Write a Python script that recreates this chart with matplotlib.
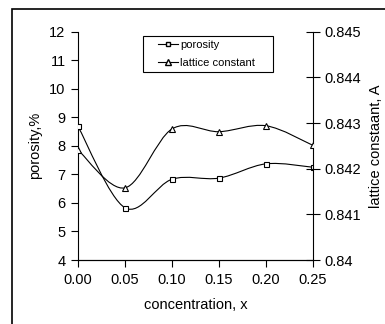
import numpy as np
import matplotlib.pyplot as plt
from matplotlib.path import Path
from matplotlib.patches import PathPatch, Rectangle

plt.rcParams['font.family'] = ['Liberation Sans', 'DejaVu Sans']

concentration = [0.00, 0.05, 0.10, 0.15, 0.20, 0.25]
porosity = [8.68, 5.83, 6.83, 6.87, 7.37, 7.25]
lattice = [0.84241, 0.84158, 0.84287, 0.84281, 0.84294, 0.84251]
xtick_labels = ['0.00', '0.05', '0.10', '0.15', '0.20', '0.25']


def smoothPatch(x, y, transform):
    '''
    Excel-like smoothed line: cubic bezier through the points,
    control points from neighbouring points (Catmull-Rom).
    '''
    pts = np.column_stack([x, y]).astype(float)
    verts = [pts[0]]
    codes = [Path.MOVETO]
    n = len(pts)
    for i in range(n - 1):
        p0 = pts[max(i - 1, 0)]
        p1 = pts[i]
        p2 = pts[i + 1]
        p3 = pts[min(i + 2, n - 1)]
        c1 = p1 + (p2 - p0) / 6.0
        c2 = p2 - (p3 - p1) / 6.0
        verts += [c1, c2, p2]
        codes += [Path.CURVE4] * 3
    return PathPatch(Path(verts, codes), facecolor='none', edgecolor='black',
                     lw=0.8, transform=transform)


fig = plt.figure(figsize=(3.85, 3.24), dpi=100)
# outer chart-area frame (runs off the right and bottom edges)
fig.patches.append(Rectangle((12 / 385, -0.1), 1.2, 0.972 + 0.1,
                             transform=fig.transFigure, fill=False,
                             edgecolor='black', lw=1.2))
# legend frame
fig.patches.append(Rectangle((143 / 385, 1 - 72 / 324), 130 / 385, 36 / 324,
                             transform=fig.transFigure, fill=False,
                             edgecolor='black', lw=0.8, zorder=5))

ax = fig.add_axes([78 / 385, 1 - 260 / 324, (313 - 78) / 385, (260 - 31.7) / 324])
ax2 = ax.twinx()

ax.add_patch(smoothPatch(concentration, porosity, ax.transData))
ax.plot(concentration, porosity, ls='none', marker='s', ms=3.6, mfc='white',
        mec='black', mew=0.8, zorder=3)
ax2.add_patch(smoothPatch(concentration, lattice, ax2.transData))
ax2.plot(concentration, lattice, ls='none', marker='^', ms=4.2, mfc='white',
         mec='black', mew=0.8, zorder=3)

ax.set_xlim(0, 0.25)
ax.set_ylim(4, 12)
ax2.set_ylim(0.84, 0.845)
ax.set_xticks(concentration)
ax.set_xticklabels(xtick_labels)
ax.set_yticks(range(4, 13))
ax2.set_yticks([0.84, 0.841, 0.842, 0.843, 0.844, 0.845])
ax2.set_yticklabels(['0.84', '0.841', '0.842', '0.843', '0.844', '0.845'])

for a in (ax, ax2):
    a.spines['top'].set_visible(False)
    for s in a.spines.values():
        s.set_linewidth(0.8)
    a.patch.set_visible(False)
ax2.spines['left'].set_visible(False)
ax.spines['right'].set_visible(False)

ax.tick_params(axis='both', direction='out', length=5, width=0.8, labelsize=10.5, pad=4)
ax.tick_params(axis='y', pad=4)
ax2.tick_params(axis='y', direction='inout', length=10, width=0.8, labelsize=10.5, pad=3)

ax.set_xlabel('concentration, x', fontsize=10.5, labelpad=8)
ax.set_ylabel('porosity,%', fontsize=10.5, labelpad=5)
ax2.set_ylabel('lattice constaant, A', fontsize=10.5, labelpad=6)

h1, = ax.plot([], [], color='black', lw=0.8, marker='s', ms=3.4, mfc='white', mec='black')
h2, = ax.plot([], [], color='black', lw=0.8, marker='^', ms=3.8, mfc='white', mec='black')
leg = ax2.legend([h1, h2], ['porosity', 'lattice constant'], loc='upper left',
                 bbox_to_anchor=(158 / 385, 1 - 39.5 / 324), bbox_transform=fig.transFigure,
                 fontsize=8, frameon=False,
                 handlelength=1.8, handletextpad=0.2, borderpad=0, labelspacing=0.75,
                 borderaxespad=0)

fig.savefig('out.png', dpi=100)
